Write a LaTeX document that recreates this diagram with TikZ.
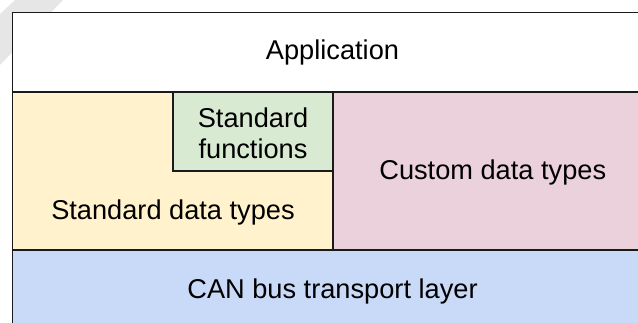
\documentclass[tikz,border=0pt]{standalone}
\usepackage{fontspec}
\setmainfont{Liberation Sans}
\definecolor{appfill}{HTML}{FFFFFF}
\definecolor{stdfill}{HTML}{FFF2CC}
\definecolor{funfill}{HTML}{D9EAD3}
\definecolor{cusfill}{HTML}{EAD1DC}
\definecolor{canfill}{HTML}{C9DAF8}
\definecolor{bandgray}{HTML}{E6E6E6}
\definecolor{edge}{HTML}{1A1A1A}
\tikzset{
  layer/.style={draw=edge, line width=1.8bp, rectangle, inner sep=0pt, outer sep=0pt, anchor=north west},
  lbl/.style={font=\fontsize{27.3}{31.5}\selectfont, text=black, inner sep=0pt, align=center},
}
\begin{document}
\begin{tikzpicture}[x=1bp, y=-1bp]
  \useasboundingbox (0,0) rectangle (638,322);
  \clip (0,0) rectangle (638,322);
  % faint diagonal band
  \fill[bandgray] (15,0) -- (63,0) -- (0,65) -- (0,14) -- cycle;
  % layers
  \node[layer, fill=stdfill, minimum width=320.5bp, minimum height=158bp] (std) at (12.5,92) {};
  \node[layer, fill=funfill, minimum width=160bp, minimum height=79bp] (fun) at (173,92) {};
  \node[layer, fill=cusfill, minimum width=319.5bp, minimum height=158bp] (cus) at (333,92) {};
  \node[layer, fill=appfill, minimum width=640bp, minimum height=79.5bp] (app) at (12.5,12.5) {};
  \node[layer, fill=canfill, minimum width=640bp, minimum height=80bp] (can) at (12.5,250) {};
  % labels
  \node[lbl] (apptxt) at (app.center) {Application};
  \node[lbl] (funtxt) at ([yshift=-1.5bp]fun.center) {Standard\\functions};
  \node[lbl] (custxt) at ([yshift=-1bp]cus.center) {Custom data types};
  \node[lbl] (stdtxt) at (173,212) {Standard data types};
  \node[lbl] (cantxt) at ([yshift=-1.5bp]can.center) {CAN bus transport layer};
\end{tikzpicture}
\end{document}
